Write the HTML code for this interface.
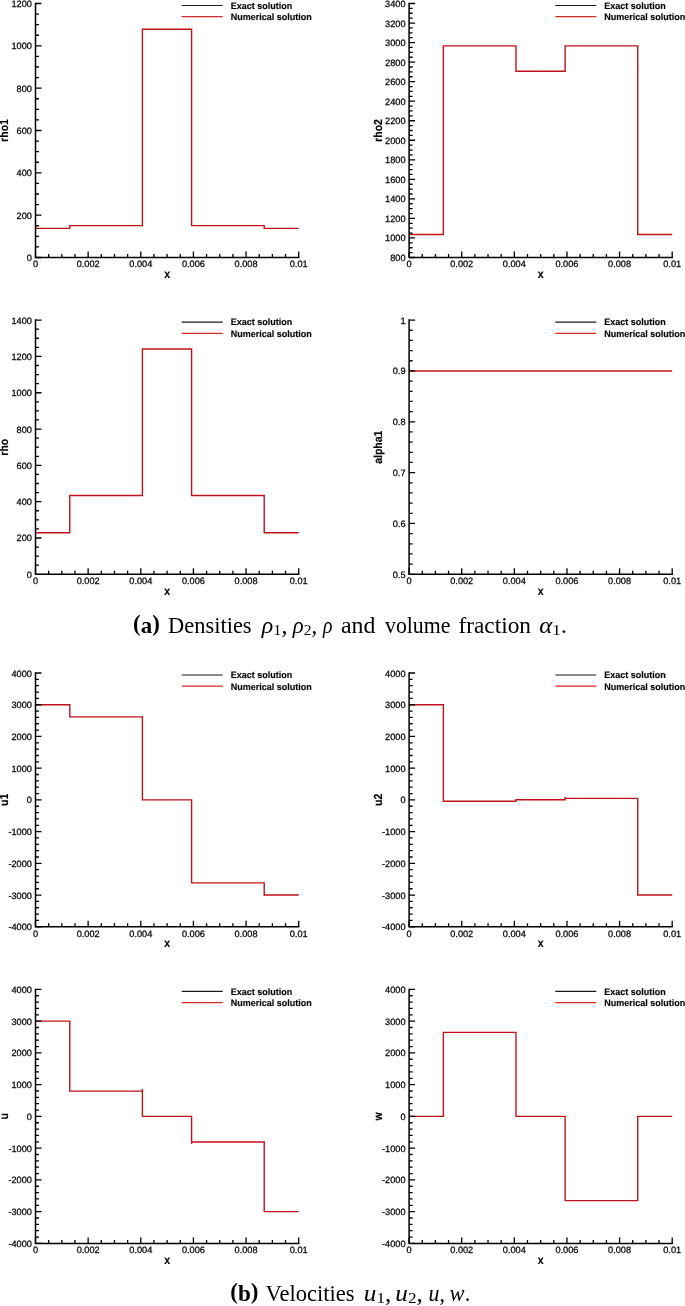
<!DOCTYPE html>
<html><head><meta charset="utf-8">
<style>
html,body{margin:0;padding:0;background:#fff;}
body{width:685px;height:1306px;overflow:hidden;position:relative;}
svg{position:absolute;left:0;top:0;will-change:transform;}
.tl{font-family:"Liberation Sans",sans-serif;font-size:9.2px;fill:#000;stroke:#000;stroke-width:0.25px;text-rendering:geometricPrecision;}
.at{font-family:"Liberation Sans",sans-serif;font-size:11.7px;font-weight:bold;fill:#000;stroke:#000;stroke-width:0.15px;text-rendering:geometricPrecision;}
.lg{font-family:"Liberation Sans",sans-serif;font-size:9.4px;font-weight:bold;fill:#000;stroke:#000;stroke-width:0.15px;text-rendering:geometricPrecision;}
.cap{font-family:"Liberation Serif",serif;font-size:22.3px;fill:#000;}
</style></head><body>
<svg width="685" height="1306" viewBox="0 0 685 1306">
<path d="M35.5 228.37 L69.79 228.37 L69.79 225.58 L142.41 225.58 L142.41 29.22 L191.6 29.22 L191.6 225.58 L264.22 225.58 L264.22 228.37 L298.7 228.37" fill="none" stroke="#c0121a" stroke-width="1.4"/>
<path d="M35.5 257.5 h6 M35.5 246.92 h3.5 M35.5 236.33 h3.5 M35.5 225.75 h3.5 M35.5 215.17 h6 M35.5 204.58 h3.5 M35.5 194 h3.5 M35.5 183.42 h3.5 M35.5 172.83 h6 M35.5 162.25 h3.5 M35.5 151.67 h3.5 M35.5 141.08 h3.5 M35.5 130.5 h6 M35.5 119.92 h3.5 M35.5 109.33 h3.5 M35.5 98.75 h3.5 M35.5 88.17 h6 M35.5 77.58 h3.5 M35.5 67 h3.5 M35.5 56.42 h3.5 M35.5 45.83 h6 M35.5 35.25 h3.5 M35.5 24.67 h3.5 M35.5 14.08 h3.5 M35.5 3.5 h6 M35.5 257.5 v-6 M48.66 257.5 v-3.5 M61.82 257.5 v-3.5 M74.98 257.5 v-3.5 M88.14 257.5 v-6 M101.3 257.5 v-3.5 M114.46 257.5 v-3.5 M127.62 257.5 v-3.5 M140.78 257.5 v-6 M153.94 257.5 v-3.5 M167.1 257.5 v-3.5 M180.26 257.5 v-3.5 M193.42 257.5 v-6 M206.58 257.5 v-3.5 M219.74 257.5 v-3.5 M232.9 257.5 v-3.5 M246.06 257.5 v-6 M259.22 257.5 v-3.5 M272.38 257.5 v-3.5 M285.54 257.5 v-3.5 M298.7 257.5 v-6" fill="none" stroke="#000" stroke-width="1.3"/>
<path d="M35.5 3.5 V257.5 H298.7" fill="none" stroke="#000" stroke-width="1.5" stroke-linecap="square"/>
<text class="tl" x="31.9" y="261" text-anchor="end">0</text>
<text class="tl" x="31.9" y="218.67" text-anchor="end">200</text>
<text class="tl" x="31.9" y="176.33" text-anchor="end">400</text>
<text class="tl" x="31.9" y="134" text-anchor="end">600</text>
<text class="tl" x="31.9" y="91.67" text-anchor="end">800</text>
<text class="tl" x="31.9" y="49.33" text-anchor="end">1000</text>
<text class="tl" x="31.9" y="7" text-anchor="end">1200</text>
<text class="tl" x="35.5" y="267.3" text-anchor="middle">0</text>
<text class="tl" x="88.14" y="267.3" text-anchor="middle">0.002</text>
<text class="tl" x="140.78" y="267.3" text-anchor="middle">0.004</text>
<text class="tl" x="193.42" y="267.3" text-anchor="middle">0.006</text>
<text class="tl" x="246.06" y="267.3" text-anchor="middle">0.008</text>
<text class="tl" x="298.7" y="267.3" text-anchor="middle">0.01</text>
<text class="at" transform="translate(167.1 278.1) scale(0.9 1)" text-anchor="middle">x</text>
<text class="at" transform="translate(8.2 130.5) rotate(-90) scale(0.9 1)" text-anchor="middle">rho1</text>
<path d="M181.7 5.5 h41" stroke="#1a1a1a" stroke-width="1.1"/>
<path d="M181.7 16.7 h41" stroke="#d42a2a" stroke-width="1.2"/>
<text class="lg" transform="translate(230.7 8.8) scale(0.96 1)">Exact solution</text>
<text class="lg" transform="translate(230.7 20) scale(0.96 1)">Numerical solution</text>
<path d="M409.1 234.44 L443.38 234.44 L443.38 45.9 L515.97 45.9 L515.97 71.3 L565.14 71.3 L565.14 45.9 L637.73 45.9 L637.73 234.44 L672.2 234.44" fill="none" stroke="#c0121a" stroke-width="1.4"/>
<path d="M409.1 257.5 h6 M409.1 252.62 h3.5 M409.1 247.73 h3.5 M409.1 242.85 h3.5 M409.1 237.96 h6 M409.1 233.08 h3.5 M409.1 228.19 h3.5 M409.1 223.31 h3.5 M409.1 218.42 h6 M409.1 213.54 h3.5 M409.1 208.65 h3.5 M409.1 203.77 h3.5 M409.1 198.88 h6 M409.1 194 h3.5 M409.1 189.12 h3.5 M409.1 184.23 h3.5 M409.1 179.35 h6 M409.1 174.46 h3.5 M409.1 169.58 h3.5 M409.1 164.69 h3.5 M409.1 159.81 h6 M409.1 154.92 h3.5 M409.1 150.04 h3.5 M409.1 145.15 h3.5 M409.1 140.27 h6 M409.1 135.38 h3.5 M409.1 130.5 h3.5 M409.1 125.62 h3.5 M409.1 120.73 h6 M409.1 115.85 h3.5 M409.1 110.96 h3.5 M409.1 106.08 h3.5 M409.1 101.19 h6 M409.1 96.31 h3.5 M409.1 91.42 h3.5 M409.1 86.54 h3.5 M409.1 81.65 h6 M409.1 76.77 h3.5 M409.1 71.88 h3.5 M409.1 67 h3.5 M409.1 62.12 h6 M409.1 57.23 h3.5 M409.1 52.35 h3.5 M409.1 47.46 h3.5 M409.1 42.58 h6 M409.1 37.69 h3.5 M409.1 32.81 h3.5 M409.1 27.92 h3.5 M409.1 23.04 h6 M409.1 18.15 h3.5 M409.1 13.27 h3.5 M409.1 8.38 h3.5 M409.1 3.5 h6 M409.1 257.5 v-6 M422.25 257.5 v-3.5 M435.41 257.5 v-3.5 M448.57 257.5 v-3.5 M461.72 257.5 v-6 M474.88 257.5 v-3.5 M488.03 257.5 v-3.5 M501.19 257.5 v-3.5 M514.34 257.5 v-6 M527.5 257.5 v-3.5 M540.65 257.5 v-3.5 M553.81 257.5 v-3.5 M566.96 257.5 v-6 M580.12 257.5 v-3.5 M593.27 257.5 v-3.5 M606.43 257.5 v-3.5 M619.58 257.5 v-6 M632.74 257.5 v-3.5 M645.89 257.5 v-3.5 M659.05 257.5 v-3.5 M672.2 257.5 v-6" fill="none" stroke="#000" stroke-width="1.3"/>
<path d="M409.1 3.5 V257.5 H672.2" fill="none" stroke="#000" stroke-width="1.5" stroke-linecap="square"/>
<text class="tl" x="405.5" y="261" text-anchor="end">800</text>
<text class="tl" x="405.5" y="241.46" text-anchor="end">1000</text>
<text class="tl" x="405.5" y="221.92" text-anchor="end">1200</text>
<text class="tl" x="405.5" y="202.38" text-anchor="end">1400</text>
<text class="tl" x="405.5" y="182.85" text-anchor="end">1600</text>
<text class="tl" x="405.5" y="163.31" text-anchor="end">1800</text>
<text class="tl" x="405.5" y="143.77" text-anchor="end">2000</text>
<text class="tl" x="405.5" y="124.23" text-anchor="end">2200</text>
<text class="tl" x="405.5" y="104.69" text-anchor="end">2400</text>
<text class="tl" x="405.5" y="85.15" text-anchor="end">2600</text>
<text class="tl" x="405.5" y="65.62" text-anchor="end">2800</text>
<text class="tl" x="405.5" y="46.08" text-anchor="end">3000</text>
<text class="tl" x="405.5" y="26.54" text-anchor="end">3200</text>
<text class="tl" x="405.5" y="7" text-anchor="end">3400</text>
<text class="tl" x="409.1" y="267.3" text-anchor="middle">0</text>
<text class="tl" x="461.72" y="267.3" text-anchor="middle">0.002</text>
<text class="tl" x="514.34" y="267.3" text-anchor="middle">0.004</text>
<text class="tl" x="566.96" y="267.3" text-anchor="middle">0.006</text>
<text class="tl" x="619.58" y="267.3" text-anchor="middle">0.008</text>
<text class="tl" x="672.2" y="267.3" text-anchor="middle">0.01</text>
<text class="at" transform="translate(540.65 278.1) scale(0.9 1)" text-anchor="middle">x</text>
<text class="at" transform="translate(381.8 130.5) rotate(-90) scale(0.9 1)" text-anchor="middle">rho2</text>
<path d="M555.3 5.5 h41" stroke="#1a1a1a" stroke-width="1.1"/>
<path d="M555.3 16.7 h41" stroke="#d42a2a" stroke-width="1.2"/>
<text class="lg" transform="translate(604.3 8.8) scale(0.96 1)">Exact solution</text>
<text class="lg" transform="translate(604.3 20) scale(0.96 1)">Numerical solution</text>
<path d="M35.5 532.68 L69.79 532.68 L69.79 495.57 L142.41 495.57 L142.41 349.01 L191.6 349.01 L191.6 495.57 L264.22 495.57 L264.22 532.68 L298.7 532.68" fill="none" stroke="#c0121a" stroke-width="1.4"/>
<path d="M35.5 574.3 h6 M35.5 565.22 h3.5 M35.5 556.14 h3.5 M35.5 547.06 h3.5 M35.5 537.99 h6 M35.5 528.91 h3.5 M35.5 519.83 h3.5 M35.5 510.75 h3.5 M35.5 501.67 h6 M35.5 492.59 h3.5 M35.5 483.51 h3.5 M35.5 474.44 h3.5 M35.5 465.36 h6 M35.5 456.28 h3.5 M35.5 447.2 h3.5 M35.5 438.12 h3.5 M35.5 429.04 h6 M35.5 419.96 h3.5 M35.5 410.89 h3.5 M35.5 401.81 h3.5 M35.5 392.73 h6 M35.5 383.65 h3.5 M35.5 374.57 h3.5 M35.5 365.49 h3.5 M35.5 356.41 h6 M35.5 347.34 h3.5 M35.5 338.26 h3.5 M35.5 329.18 h3.5 M35.5 320.1 h6 M35.5 574.3 v-6 M48.66 574.3 v-3.5 M61.82 574.3 v-3.5 M74.98 574.3 v-3.5 M88.14 574.3 v-6 M101.3 574.3 v-3.5 M114.46 574.3 v-3.5 M127.62 574.3 v-3.5 M140.78 574.3 v-6 M153.94 574.3 v-3.5 M167.1 574.3 v-3.5 M180.26 574.3 v-3.5 M193.42 574.3 v-6 M206.58 574.3 v-3.5 M219.74 574.3 v-3.5 M232.9 574.3 v-3.5 M246.06 574.3 v-6 M259.22 574.3 v-3.5 M272.38 574.3 v-3.5 M285.54 574.3 v-3.5 M298.7 574.3 v-6" fill="none" stroke="#000" stroke-width="1.3"/>
<path d="M35.5 320.1 V574.3 H298.7" fill="none" stroke="#000" stroke-width="1.5" stroke-linecap="square"/>
<text class="tl" x="31.9" y="577.8" text-anchor="end">0</text>
<text class="tl" x="31.9" y="541.49" text-anchor="end">200</text>
<text class="tl" x="31.9" y="505.17" text-anchor="end">400</text>
<text class="tl" x="31.9" y="468.86" text-anchor="end">600</text>
<text class="tl" x="31.9" y="432.54" text-anchor="end">800</text>
<text class="tl" x="31.9" y="396.23" text-anchor="end">1000</text>
<text class="tl" x="31.9" y="359.91" text-anchor="end">1200</text>
<text class="tl" x="31.9" y="323.6" text-anchor="end">1400</text>
<text class="tl" x="35.5" y="584.1" text-anchor="middle">0</text>
<text class="tl" x="88.14" y="584.1" text-anchor="middle">0.002</text>
<text class="tl" x="140.78" y="584.1" text-anchor="middle">0.004</text>
<text class="tl" x="193.42" y="584.1" text-anchor="middle">0.006</text>
<text class="tl" x="246.06" y="584.1" text-anchor="middle">0.008</text>
<text class="tl" x="298.7" y="584.1" text-anchor="middle">0.01</text>
<text class="at" transform="translate(167.1 594.9) scale(0.9 1)" text-anchor="middle">x</text>
<text class="at" transform="translate(8.2 447.2) rotate(-90) scale(0.9 1)" text-anchor="middle">rho</text>
<path d="M181.7 322.1 h41" stroke="#1a1a1a" stroke-width="1.1"/>
<path d="M181.7 333.3 h41" stroke="#d42a2a" stroke-width="1.2"/>
<text class="lg" transform="translate(230.7 325.4) scale(0.96 1)">Exact solution</text>
<text class="lg" transform="translate(230.7 336.6) scale(0.96 1)">Numerical solution</text>
<path d="M409.1 370.94 L443.38 370.94 L443.38 370.94 L515.97 370.94 L515.97 370.94 L565.14 370.94 L565.14 370.94 L637.73 370.94 L637.73 370.94 L672.2 370.94" fill="none" stroke="#c0121a" stroke-width="1.4"/>
<path d="M409.1 574.3 h6 M409.1 564.13 h3.5 M409.1 553.96 h3.5 M409.1 543.8 h3.5 M409.1 533.63 h3.5 M409.1 523.46 h6 M409.1 513.29 h3.5 M409.1 503.12 h3.5 M409.1 492.96 h3.5 M409.1 482.79 h3.5 M409.1 472.62 h6 M409.1 462.45 h3.5 M409.1 452.28 h3.5 M409.1 442.12 h3.5 M409.1 431.95 h3.5 M409.1 421.78 h6 M409.1 411.61 h3.5 M409.1 401.44 h3.5 M409.1 391.28 h3.5 M409.1 381.11 h3.5 M409.1 370.94 h6 M409.1 360.77 h3.5 M409.1 350.6 h3.5 M409.1 340.44 h3.5 M409.1 330.27 h3.5 M409.1 320.1 h6 M409.1 574.3 v-6 M422.25 574.3 v-3.5 M435.41 574.3 v-3.5 M448.57 574.3 v-3.5 M461.72 574.3 v-6 M474.88 574.3 v-3.5 M488.03 574.3 v-3.5 M501.19 574.3 v-3.5 M514.34 574.3 v-6 M527.5 574.3 v-3.5 M540.65 574.3 v-3.5 M553.81 574.3 v-3.5 M566.96 574.3 v-6 M580.12 574.3 v-3.5 M593.27 574.3 v-3.5 M606.43 574.3 v-3.5 M619.58 574.3 v-6 M632.74 574.3 v-3.5 M645.89 574.3 v-3.5 M659.05 574.3 v-3.5 M672.2 574.3 v-6" fill="none" stroke="#000" stroke-width="1.3"/>
<path d="M409.1 320.1 V574.3 H672.2" fill="none" stroke="#000" stroke-width="1.5" stroke-linecap="square"/>
<text class="tl" x="405.5" y="577.8" text-anchor="end">0.5</text>
<text class="tl" x="405.5" y="526.96" text-anchor="end">0.6</text>
<text class="tl" x="405.5" y="476.12" text-anchor="end">0.7</text>
<text class="tl" x="405.5" y="425.28" text-anchor="end">0.8</text>
<text class="tl" x="405.5" y="374.44" text-anchor="end">0.9</text>
<text class="tl" x="405.5" y="323.6" text-anchor="end">1</text>
<text class="tl" x="409.1" y="584.1" text-anchor="middle">0</text>
<text class="tl" x="461.72" y="584.1" text-anchor="middle">0.002</text>
<text class="tl" x="514.34" y="584.1" text-anchor="middle">0.004</text>
<text class="tl" x="566.96" y="584.1" text-anchor="middle">0.006</text>
<text class="tl" x="619.58" y="584.1" text-anchor="middle">0.008</text>
<text class="tl" x="672.2" y="584.1" text-anchor="middle">0.01</text>
<text class="at" transform="translate(540.65 594.9) scale(0.9 1)" text-anchor="middle">x</text>
<text class="at" transform="translate(381.8 447.2) rotate(-90) scale(0.9 1)" text-anchor="middle">alpha1</text>
<path d="M555.3 322.1 h41" stroke="#1a1a1a" stroke-width="1.1"/>
<path d="M555.3 333.3 h41" stroke="#d42a2a" stroke-width="1.2"/>
<text class="lg" transform="translate(604.3 325.4) scale(0.96 1)">Exact solution</text>
<text class="lg" transform="translate(604.3 336.6) scale(0.96 1)">Numerical solution</text>
<path d="M35.5 704.73 L69.79 704.73 L69.79 716.91 L142.41 716.91 L142.41 799.9 L191.6 799.9 L191.6 882.89 L264.22 882.89 L264.22 895.07 L298.7 895.07" fill="none" stroke="#c0121a" stroke-width="1.4"/>
<path d="M35.5 926.8 h6 M35.5 920.45 h3.5 M35.5 914.11 h3.5 M35.5 907.76 h3.5 M35.5 901.42 h3.5 M35.5 895.07 h6 M35.5 888.73 h3.5 M35.5 882.38 h3.5 M35.5 876.04 h3.5 M35.5 869.69 h3.5 M35.5 863.35 h6 M35.5 857 h3.5 M35.5 850.66 h3.5 M35.5 844.31 h3.5 M35.5 837.97 h3.5 M35.5 831.62 h6 M35.5 825.28 h3.5 M35.5 818.93 h3.5 M35.5 812.59 h3.5 M35.5 806.25 h3.5 M35.5 799.9 h6 M35.5 793.55 h3.5 M35.5 787.21 h3.5 M35.5 780.87 h3.5 M35.5 774.52 h3.5 M35.5 768.17 h6 M35.5 761.83 h3.5 M35.5 755.49 h3.5 M35.5 749.14 h3.5 M35.5 742.79 h3.5 M35.5 736.45 h6 M35.5 730.11 h3.5 M35.5 723.76 h3.5 M35.5 717.41 h3.5 M35.5 711.07 h3.5 M35.5 704.73 h6 M35.5 698.38 h3.5 M35.5 692.03 h3.5 M35.5 685.69 h3.5 M35.5 679.35 h3.5 M35.5 673 h6 M35.5 926.8 v-6 M48.66 926.8 v-3.5 M61.82 926.8 v-3.5 M74.98 926.8 v-3.5 M88.14 926.8 v-6 M101.3 926.8 v-3.5 M114.46 926.8 v-3.5 M127.62 926.8 v-3.5 M140.78 926.8 v-6 M153.94 926.8 v-3.5 M167.1 926.8 v-3.5 M180.26 926.8 v-3.5 M193.42 926.8 v-6 M206.58 926.8 v-3.5 M219.74 926.8 v-3.5 M232.9 926.8 v-3.5 M246.06 926.8 v-6 M259.22 926.8 v-3.5 M272.38 926.8 v-3.5 M285.54 926.8 v-3.5 M298.7 926.8 v-6" fill="none" stroke="#000" stroke-width="1.3"/>
<path d="M35.5 673 V926.8 H298.7" fill="none" stroke="#000" stroke-width="1.5" stroke-linecap="square"/>
<text class="tl" x="31.9" y="930.3" text-anchor="end">-4000</text>
<text class="tl" x="31.9" y="898.57" text-anchor="end">-3000</text>
<text class="tl" x="31.9" y="866.85" text-anchor="end">-2000</text>
<text class="tl" x="31.9" y="835.12" text-anchor="end">-1000</text>
<text class="tl" x="31.9" y="803.4" text-anchor="end">0</text>
<text class="tl" x="31.9" y="771.67" text-anchor="end">1000</text>
<text class="tl" x="31.9" y="739.95" text-anchor="end">2000</text>
<text class="tl" x="31.9" y="708.23" text-anchor="end">3000</text>
<text class="tl" x="31.9" y="676.5" text-anchor="end">4000</text>
<text class="tl" x="35.5" y="936.6" text-anchor="middle">0</text>
<text class="tl" x="88.14" y="936.6" text-anchor="middle">0.002</text>
<text class="tl" x="140.78" y="936.6" text-anchor="middle">0.004</text>
<text class="tl" x="193.42" y="936.6" text-anchor="middle">0.006</text>
<text class="tl" x="246.06" y="936.6" text-anchor="middle">0.008</text>
<text class="tl" x="298.7" y="936.6" text-anchor="middle">0.01</text>
<text class="at" transform="translate(167.1 947.4) scale(0.9 1)" text-anchor="middle">x</text>
<text class="at" transform="translate(8.2 799.9) rotate(-90) scale(0.9 1)" text-anchor="middle">u1</text>
<path d="M181.7 675 h41" stroke="#1a1a1a" stroke-width="1.1"/>
<path d="M181.7 686.2 h41" stroke="#d42a2a" stroke-width="1.2"/>
<text class="lg" transform="translate(230.7 678.3) scale(0.96 1)">Exact solution</text>
<text class="lg" transform="translate(230.7 689.5) scale(0.96 1)">Numerical solution</text>
<path d="M409.1 704.73 L443.38 704.73 L443.38 801.2 L515.97 801.2 L515.97 799.8 L565.14 799.8 L565.14 797.04 L565.14 798.41 L637.73 798.41 L637.73 895.07 L672.2 895.07" fill="none" stroke="#c0121a" stroke-width="1.4"/>
<path d="M409.1 926.8 h6 M409.1 920.45 h3.5 M409.1 914.11 h3.5 M409.1 907.76 h3.5 M409.1 901.42 h3.5 M409.1 895.07 h6 M409.1 888.73 h3.5 M409.1 882.38 h3.5 M409.1 876.04 h3.5 M409.1 869.69 h3.5 M409.1 863.35 h6 M409.1 857 h3.5 M409.1 850.66 h3.5 M409.1 844.31 h3.5 M409.1 837.97 h3.5 M409.1 831.62 h6 M409.1 825.28 h3.5 M409.1 818.93 h3.5 M409.1 812.59 h3.5 M409.1 806.25 h3.5 M409.1 799.9 h6 M409.1 793.55 h3.5 M409.1 787.21 h3.5 M409.1 780.87 h3.5 M409.1 774.52 h3.5 M409.1 768.17 h6 M409.1 761.83 h3.5 M409.1 755.49 h3.5 M409.1 749.14 h3.5 M409.1 742.79 h3.5 M409.1 736.45 h6 M409.1 730.11 h3.5 M409.1 723.76 h3.5 M409.1 717.41 h3.5 M409.1 711.07 h3.5 M409.1 704.73 h6 M409.1 698.38 h3.5 M409.1 692.03 h3.5 M409.1 685.69 h3.5 M409.1 679.35 h3.5 M409.1 673 h6 M409.1 926.8 v-6 M422.25 926.8 v-3.5 M435.41 926.8 v-3.5 M448.57 926.8 v-3.5 M461.72 926.8 v-6 M474.88 926.8 v-3.5 M488.03 926.8 v-3.5 M501.19 926.8 v-3.5 M514.34 926.8 v-6 M527.5 926.8 v-3.5 M540.65 926.8 v-3.5 M553.81 926.8 v-3.5 M566.96 926.8 v-6 M580.12 926.8 v-3.5 M593.27 926.8 v-3.5 M606.43 926.8 v-3.5 M619.58 926.8 v-6 M632.74 926.8 v-3.5 M645.89 926.8 v-3.5 M659.05 926.8 v-3.5 M672.2 926.8 v-6" fill="none" stroke="#000" stroke-width="1.3"/>
<path d="M409.1 673 V926.8 H672.2" fill="none" stroke="#000" stroke-width="1.5" stroke-linecap="square"/>
<text class="tl" x="405.5" y="930.3" text-anchor="end">-4000</text>
<text class="tl" x="405.5" y="898.57" text-anchor="end">-3000</text>
<text class="tl" x="405.5" y="866.85" text-anchor="end">-2000</text>
<text class="tl" x="405.5" y="835.12" text-anchor="end">-1000</text>
<text class="tl" x="405.5" y="803.4" text-anchor="end">0</text>
<text class="tl" x="405.5" y="771.67" text-anchor="end">1000</text>
<text class="tl" x="405.5" y="739.95" text-anchor="end">2000</text>
<text class="tl" x="405.5" y="708.23" text-anchor="end">3000</text>
<text class="tl" x="405.5" y="676.5" text-anchor="end">4000</text>
<text class="tl" x="409.1" y="936.6" text-anchor="middle">0</text>
<text class="tl" x="461.72" y="936.6" text-anchor="middle">0.002</text>
<text class="tl" x="514.34" y="936.6" text-anchor="middle">0.004</text>
<text class="tl" x="566.96" y="936.6" text-anchor="middle">0.006</text>
<text class="tl" x="619.58" y="936.6" text-anchor="middle">0.008</text>
<text class="tl" x="672.2" y="936.6" text-anchor="middle">0.01</text>
<text class="at" transform="translate(540.65 947.4) scale(0.9 1)" text-anchor="middle">x</text>
<text class="at" transform="translate(381.8 799.9) rotate(-90) scale(0.9 1)" text-anchor="middle">u2</text>
<path d="M555.3 675 h41" stroke="#1a1a1a" stroke-width="1.1"/>
<path d="M555.3 686.2 h41" stroke="#d42a2a" stroke-width="1.2"/>
<text class="lg" transform="translate(604.3 678.3) scale(0.96 1)">Exact solution</text>
<text class="lg" transform="translate(604.3 689.5) scale(0.96 1)">Numerical solution</text>
<path d="M35.5 1021.15 L69.79 1021.15 L69.79 1091.1 L142.41 1091.1 L142.41 1088.94 L142.41 1116.4 L191.6 1116.4 L191.6 1143.86 L191.6 1141.99 L264.22 1141.99 L264.22 1211.65 L298.7 1211.65" fill="none" stroke="#c0121a" stroke-width="1.4"/>
<path d="M35.5 1243.4 h6 M35.5 1237.05 h3.5 M35.5 1230.7 h3.5 M35.5 1224.35 h3.5 M35.5 1218 h3.5 M35.5 1211.65 h6 M35.5 1205.3 h3.5 M35.5 1198.95 h3.5 M35.5 1192.6 h3.5 M35.5 1186.25 h3.5 M35.5 1179.9 h6 M35.5 1173.55 h3.5 M35.5 1167.2 h3.5 M35.5 1160.85 h3.5 M35.5 1154.5 h3.5 M35.5 1148.15 h6 M35.5 1141.8 h3.5 M35.5 1135.45 h3.5 M35.5 1129.1 h3.5 M35.5 1122.75 h3.5 M35.5 1116.4 h6 M35.5 1110.05 h3.5 M35.5 1103.7 h3.5 M35.5 1097.35 h3.5 M35.5 1091 h3.5 M35.5 1084.65 h6 M35.5 1078.3 h3.5 M35.5 1071.95 h3.5 M35.5 1065.6 h3.5 M35.5 1059.25 h3.5 M35.5 1052.9 h6 M35.5 1046.55 h3.5 M35.5 1040.2 h3.5 M35.5 1033.85 h3.5 M35.5 1027.5 h3.5 M35.5 1021.15 h6 M35.5 1014.8 h3.5 M35.5 1008.45 h3.5 M35.5 1002.1 h3.5 M35.5 995.75 h3.5 M35.5 989.4 h6 M35.5 1243.4 v-6 M48.66 1243.4 v-3.5 M61.82 1243.4 v-3.5 M74.98 1243.4 v-3.5 M88.14 1243.4 v-6 M101.3 1243.4 v-3.5 M114.46 1243.4 v-3.5 M127.62 1243.4 v-3.5 M140.78 1243.4 v-6 M153.94 1243.4 v-3.5 M167.1 1243.4 v-3.5 M180.26 1243.4 v-3.5 M193.42 1243.4 v-6 M206.58 1243.4 v-3.5 M219.74 1243.4 v-3.5 M232.9 1243.4 v-3.5 M246.06 1243.4 v-6 M259.22 1243.4 v-3.5 M272.38 1243.4 v-3.5 M285.54 1243.4 v-3.5 M298.7 1243.4 v-6" fill="none" stroke="#000" stroke-width="1.3"/>
<path d="M35.5 989.4 V1243.4 H298.7" fill="none" stroke="#000" stroke-width="1.5" stroke-linecap="square"/>
<text class="tl" x="31.9" y="1246.9" text-anchor="end">-4000</text>
<text class="tl" x="31.9" y="1215.15" text-anchor="end">-3000</text>
<text class="tl" x="31.9" y="1183.4" text-anchor="end">-2000</text>
<text class="tl" x="31.9" y="1151.65" text-anchor="end">-1000</text>
<text class="tl" x="31.9" y="1119.9" text-anchor="end">0</text>
<text class="tl" x="31.9" y="1088.15" text-anchor="end">1000</text>
<text class="tl" x="31.9" y="1056.4" text-anchor="end">2000</text>
<text class="tl" x="31.9" y="1024.65" text-anchor="end">3000</text>
<text class="tl" x="31.9" y="992.9" text-anchor="end">4000</text>
<text class="tl" x="35.5" y="1253.2" text-anchor="middle">0</text>
<text class="tl" x="88.14" y="1253.2" text-anchor="middle">0.002</text>
<text class="tl" x="140.78" y="1253.2" text-anchor="middle">0.004</text>
<text class="tl" x="193.42" y="1253.2" text-anchor="middle">0.006</text>
<text class="tl" x="246.06" y="1253.2" text-anchor="middle">0.008</text>
<text class="tl" x="298.7" y="1253.2" text-anchor="middle">0.01</text>
<text class="at" transform="translate(167.1 1264) scale(0.9 1)" text-anchor="middle">x</text>
<text class="at" transform="translate(8.2 1116.4) rotate(-90) scale(0.9 1)" text-anchor="middle">u</text>
<path d="M181.7 991.4 h41" stroke="#1a1a1a" stroke-width="1.1"/>
<path d="M181.7 1002.6 h41" stroke="#d42a2a" stroke-width="1.2"/>
<text class="lg" transform="translate(230.7 994.7) scale(0.96 1)">Exact solution</text>
<text class="lg" transform="translate(230.7 1005.9) scale(0.96 1)">Numerical solution</text>
<path d="M409.1 1116.4 L443.38 1116.4 L443.38 1032.39 L515.97 1032.39 L515.97 1116.4 L565.14 1116.4 L565.14 1200.6 L637.73 1200.6 L637.73 1116.4 L672.2 1116.4" fill="none" stroke="#c0121a" stroke-width="1.4"/>
<path d="M409.1 1243.4 h6 M409.1 1237.05 h3.5 M409.1 1230.7 h3.5 M409.1 1224.35 h3.5 M409.1 1218 h3.5 M409.1 1211.65 h6 M409.1 1205.3 h3.5 M409.1 1198.95 h3.5 M409.1 1192.6 h3.5 M409.1 1186.25 h3.5 M409.1 1179.9 h6 M409.1 1173.55 h3.5 M409.1 1167.2 h3.5 M409.1 1160.85 h3.5 M409.1 1154.5 h3.5 M409.1 1148.15 h6 M409.1 1141.8 h3.5 M409.1 1135.45 h3.5 M409.1 1129.1 h3.5 M409.1 1122.75 h3.5 M409.1 1116.4 h6 M409.1 1110.05 h3.5 M409.1 1103.7 h3.5 M409.1 1097.35 h3.5 M409.1 1091 h3.5 M409.1 1084.65 h6 M409.1 1078.3 h3.5 M409.1 1071.95 h3.5 M409.1 1065.6 h3.5 M409.1 1059.25 h3.5 M409.1 1052.9 h6 M409.1 1046.55 h3.5 M409.1 1040.2 h3.5 M409.1 1033.85 h3.5 M409.1 1027.5 h3.5 M409.1 1021.15 h6 M409.1 1014.8 h3.5 M409.1 1008.45 h3.5 M409.1 1002.1 h3.5 M409.1 995.75 h3.5 M409.1 989.4 h6 M409.1 1243.4 v-6 M422.25 1243.4 v-3.5 M435.41 1243.4 v-3.5 M448.57 1243.4 v-3.5 M461.72 1243.4 v-6 M474.88 1243.4 v-3.5 M488.03 1243.4 v-3.5 M501.19 1243.4 v-3.5 M514.34 1243.4 v-6 M527.5 1243.4 v-3.5 M540.65 1243.4 v-3.5 M553.81 1243.4 v-3.5 M566.96 1243.4 v-6 M580.12 1243.4 v-3.5 M593.27 1243.4 v-3.5 M606.43 1243.4 v-3.5 M619.58 1243.4 v-6 M632.74 1243.4 v-3.5 M645.89 1243.4 v-3.5 M659.05 1243.4 v-3.5 M672.2 1243.4 v-6" fill="none" stroke="#000" stroke-width="1.3"/>
<path d="M409.1 989.4 V1243.4 H672.2" fill="none" stroke="#000" stroke-width="1.5" stroke-linecap="square"/>
<text class="tl" x="405.5" y="1246.9" text-anchor="end">-4000</text>
<text class="tl" x="405.5" y="1215.15" text-anchor="end">-3000</text>
<text class="tl" x="405.5" y="1183.4" text-anchor="end">-2000</text>
<text class="tl" x="405.5" y="1151.65" text-anchor="end">-1000</text>
<text class="tl" x="405.5" y="1119.9" text-anchor="end">0</text>
<text class="tl" x="405.5" y="1088.15" text-anchor="end">1000</text>
<text class="tl" x="405.5" y="1056.4" text-anchor="end">2000</text>
<text class="tl" x="405.5" y="1024.65" text-anchor="end">3000</text>
<text class="tl" x="405.5" y="992.9" text-anchor="end">4000</text>
<text class="tl" x="409.1" y="1253.2" text-anchor="middle">0</text>
<text class="tl" x="461.72" y="1253.2" text-anchor="middle">0.002</text>
<text class="tl" x="514.34" y="1253.2" text-anchor="middle">0.004</text>
<text class="tl" x="566.96" y="1253.2" text-anchor="middle">0.006</text>
<text class="tl" x="619.58" y="1253.2" text-anchor="middle">0.008</text>
<text class="tl" x="672.2" y="1253.2" text-anchor="middle">0.01</text>
<text class="at" transform="translate(540.65 1264) scale(0.9 1)" text-anchor="middle">x</text>
<text class="at" transform="translate(381.8 1116.4) rotate(-90) scale(0.9 1)" text-anchor="middle">w</text>
<path d="M555.3 991.4 h41" stroke="#1a1a1a" stroke-width="1.1"/>
<path d="M555.3 1002.6 h41" stroke="#d42a2a" stroke-width="1.2"/>
<text class="lg" transform="translate(604.3 994.7) scale(0.96 1)">Exact solution</text>
<text class="lg" transform="translate(604.3 1005.9) scale(0.96 1)">Numerical solution</text>
<g class="cap"><text transform="translate(133.1 632.7) scale(1.027 1)"><tspan font-weight="bold"><tspan dy="-2">(</tspan><tspan dy="2">a</tspan><tspan dy="-2">)</tspan></tspan><tspan dy="2"></tspan></text><text transform="translate(168.1 632.7) scale(1.007 1)">Densities</text><text transform="translate(261.87 632.7) scale(1.071 1)"><tspan font-style="italic">&#961;</tspan><tspan font-size="15.2" dy="2.2">1</tspan><tspan dy="-2.2">,</tspan></text><text transform="translate(292.82 632.7) scale(1.021 1)"><tspan font-style="italic">&#961;</tspan><tspan font-size="15.2" dy="2.2">2</tspan><tspan dy="-2.2">,</tspan></text><text transform="translate(323.08 632.7) scale(0.883 1)"><tspan font-style="italic">&#961;</tspan></text><text transform="translate(341 632.7) scale(1.069 1)">and</text><text transform="translate(385 632.7) scale(0.978 1)">volume</text><text transform="translate(458.5 632.7) scale(1.046 1)">fraction</text><text transform="translate(539.2 632.7) scale(1.117 1)"><tspan font-style="italic">&#945;</tspan><tspan font-size="15.2" dy="2.2">1</tspan><tspan dy="-2.2">.</tspan></text></g>
<g class="cap"><text transform="translate(230.3 1300.9) scale(1.037 1)"><tspan font-weight="bold"><tspan dy="-1.6">(</tspan><tspan dy="1.6">b</tspan><tspan dy="-1.6">)</tspan></tspan><tspan dy="1.6"></tspan></text><text transform="translate(265.6 1300.9) scale(1.012 1)">Velocities</text><text transform="translate(363.8 1300.9) scale(1.129 1)"><tspan font-style="italic">u</tspan><tspan font-size="15.2" dy="2.2">1</tspan><tspan dy="-2.2">,</tspan></text><text transform="translate(395.3 1300.9) scale(1.129 1)"><tspan font-style="italic">u</tspan><tspan font-size="15.2" dy="2.2">2</tspan><tspan dy="-2.2">,</tspan></text><text transform="translate(428.6 1300.9) scale(0.981 1)"><tspan font-style="italic">u</tspan>,</text><text transform="translate(449.6 1300.9) scale(1.010 1)"><tspan font-style="italic">w</tspan>.</text></g>
</svg>
</body></html>
